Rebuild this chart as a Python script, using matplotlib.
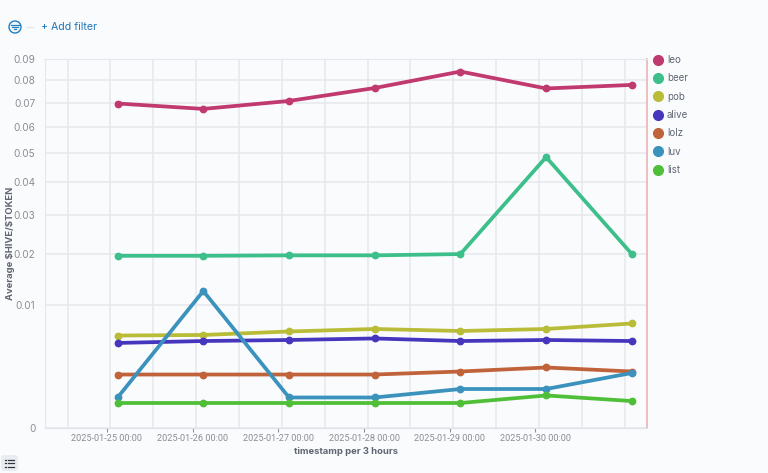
import matplotlib
matplotlib.use("Agg")
import numpy as np
import pandas as pd
import matplotlib.pyplot as plt
import matplotlib.dates as mdates
from matplotlib.patches import Circle, FancyBboxPatch
from matplotlib.lines import Line2D

plt.rcParams["font.family"] = ["Inter", "DejaVu Sans"]

timestamps = pd.to_datetime(["2025-01-25 03:00", "2025-01-26 03:00", "2025-01-27 03:00", "2025-01-28 03:00",
                             "2025-01-29 03:00", "2025-01-30 03:00", "2025-01-31 03:00"])
leo = [0.0696, 0.0673, 0.0707, 0.0764, 0.0840, 0.0762, 0.0778]
beer = [0.0196, 0.0196, 0.0197, 0.0197, 0.0200, 0.0485, 0.0200]
pob = [0.00565, 0.00572, 0.00616, 0.00648, 0.00622, 0.00648, 0.00722]
alive = [0.00478, 0.00500, 0.00512, 0.00530, 0.00500, 0.00512, 0.00500]
lolz = [0.00189, 0.00189, 0.00189, 0.00189, 0.00211, 0.00242, 0.00211]
luv = [0.000615, 0.0124, 0.000615, 0.000615, 0.001005, 0.001005, 0.0020]
list_token = [0.000413, 0.000413, 0.000413, 0.000413, 0.000413, 0.00070, 0.00048]

names = ["leo", "beer", "pob", "alive", "lolz", "luv", "list"]
series = [leo, beer, pob, alive, lolz, luv, list_token]
colors = ["#c0396f", "#3cbf8a", "#b8bc37", "#4636bd", "#c0633a", "#3b92bd", "#4fbf38"]
y_ticks = [0, 0.01, 0.02, 0.03, 0.04, 0.05, 0.06, 0.07, 0.08, 0.09]
y_labels = ["0", "0.01", "0.02", "0.03", "0.04", "0.05", "0.06", "0.07", "0.08", "0.09"]
tick_days = pd.date_range("2025-01-25", "2025-01-30", freq="D")
grid_times = pd.date_range("2025-01-24 13:00", "2025-01-31 13:00", freq="12h")

bg = "#fafbfd"
W, H = 768, 473
fig = plt.figure(figsize=(W / 100, H / 100), dpi=100, facecolor=bg)
ax = fig.add_axes([45 / W, 1 - 428 / H, 602 / W, 369 / H], facecolor=bg)

ax.set_yscale("function", functions=(lambda v: np.sqrt(np.maximum(v, 0)), lambda v: v ** 2))
ax.set_ylim(0, 0.09)
ax.set_xlim(pd.Timestamp("2025-01-24 06:40"), pd.Timestamp("2025-01-31 07:15"))

for t in grid_times:
    ax.axvline(t, color="#e6e8ed", lw=1.1, zorder=1)
for v in y_ticks:
    ax.axhline(v, color="#e6e8ed", lw=1.1, zorder=1)

for name, values, c in zip(names, series, colors):
    ax.plot(timestamps, values, color=c, lw=2.7, marker="o", ms=4.6, label=name, zorder=3,
            solid_joinstyle="round", clip_on=False)

ax.set_yticks(y_ticks, y_labels)
ax.yaxis.set_minor_locator(matplotlib.ticker.NullLocator())
ax.set_xticks(tick_days)
ax.xaxis.set_major_formatter(mdates.DateFormatter("%Y-%m-%d %H:%M"))
ax.tick_params(axis="both", labelsize=7.2, colors="#8f929a", length=3, width=0.8)
ax.tick_params(axis="x", pad=1.5, length=3)
ax.tick_params(axis="y", length=0, pad=7)
for lab in ax.get_yticklabels():
    lab.set_color("#8a8d95")
for lab in ax.get_xticklabels():
    lab.set_color("#8a8d95")
    lab.set_fontfamily("Roboto")
    lab.set_fontsize(6.6)

for side in ["top", "left"]:
    ax.spines[side].set_color("#e6e8ed")
ax.spines["bottom"].set_color("#dfe2e8")
ax.spines["right"].set_color("#eab4b8")
ax.spines["right"].set_linewidth(1.2)

ax.set_xlabel("timestamp per 3 hours", fontsize=6.8, fontweight="bold", color="#5f6672")
ax.xaxis.set_label_coords((346 - 45) / 602, -(451 - 428) / 369, transform=ax.transAxes)
ax.xaxis.label.set_verticalalignment("center")
ax.set_ylabel(r"Average \$HIVE/\$TOKEN", fontsize=6.8, fontweight="bold", color="#5f6672")
ax.yaxis.set_label_coords((11 - 45) / 602, (428 - 243) / 369, transform=ax.transAxes)
ax.yaxis.label.set_verticalalignment("center")

# legend on the right
leg_handles = [Line2D([], [], ls="", marker="o", ms=7, color=c) for c in colors]
leg = fig.legend(leg_handles, names, loc="upper left", bbox_to_anchor=(653 / W, 1 - 55 / H), frameon=False,
                 fontsize=7, labelspacing=0.86, handlelength=1, handletextpad=0.44, borderpad=0, borderaxespad=0)
for t in leg.get_texts():
    t.set_color("#5f6672")

# filter bar
icon = fig.add_axes([0, 0, 1, 1], facecolor="none")
icon.set_xlim(0, W)
icon.set_ylim(H, 0)
icon.axis("off")
icon.add_patch(Circle((15, 27), 6, fill=False, ec="#1f7fc1", lw=1))
for half, yy in [(4, 25), (2.6, 27.2), (1.2, 29.4)]:
    icon.plot([15 - half, 15 + half], [yy, yy], color="#1f7fc1", lw=0.9)
icon.plot([27, 33], [27, 27], color="#e3e6ec", lw=1)
icon.text(41, 27.5, "+ Add filter", fontsize=7.6, color="#1f77b8", va="center", ha="left")

# legend toggle button, bottom left
icon.add_patch(FancyBboxPatch((1, 455), 17, 16, boxstyle="round,pad=0,rounding_size=3", fc="#e9ecf1", ec="none"))
for yy in [459.5, 463, 466.5]:
    icon.plot([7.5, 14], [yy, yy], color="#343741", lw=0.9)
    icon.plot([4.5, 5.8], [yy, yy], color="#343741", lw=0.9)

fig.savefig("out.png", dpi=100, facecolor=bg)
